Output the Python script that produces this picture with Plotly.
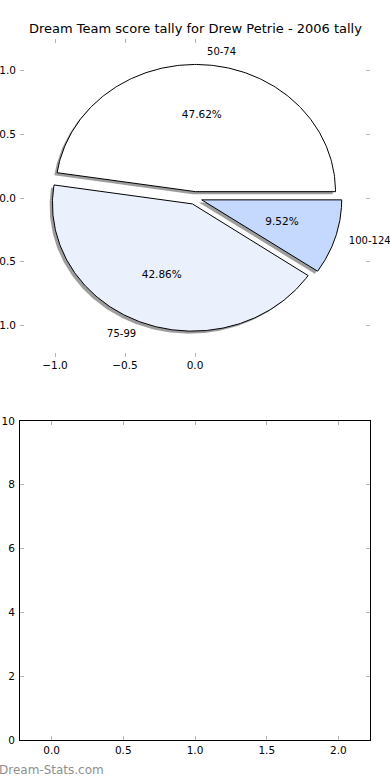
import numpy as np
import plotly.graph_objects as go

# ---- data ----
categories = ["50-74", "75-99", "100-124"]
counts = [10, 9, 2]
colors = ["#ffffff", "#eaf1fd", "#c5d8fe"]
title = "Dream Team score tally for Drew Petrie - 2006 tally"
pie_xticks = [-1.0, -0.5, 0.0]
pie_yticks = [-1.0, -0.5, 0.0, 0.5, 1.0]
bottom_xticks = [0.0, 0.5, 1.0, 1.5, 2.0]
bottom_yticks = [0, 2, 4, 6, 8, 10]

explode = 0.05
shadow_off = -0.02
label_dist = 1.1
pct_dist = 0.6

W, H = 390, 780
FONT = "DejaVu Sans"
TICKC = "#b4b4b4"
FS = 10.5

fig = go.Figure()

total = float(sum(counts))
fracs = [c / total for c in counts]

wedges = []
t1 = 0.0
for cat, f, col in zip(categories, fracs, colors):
    t2 = t1 + 360.0 * f
    mid = np.deg2rad((t1 + t2) / 2)
    cx, cy = explode * np.cos(mid), explode * np.sin(mid)
    th = np.deg2rad(np.linspace(t1, t2, 200))
    xs = np.concatenate([[cx], cx + np.cos(th), [cx]])
    ys = np.concatenate([[cy], cy + np.sin(th), [cy]])
    wedges.append((cat, f, col, xs, ys, mid, cx, cy))
    t1 = t2

# shadows first (below wedges)
for cat, f, col, xs, ys, mid, cx, cy in wedges:
    fig.add_trace(go.Scatter(x=xs + shadow_off, y=ys + shadow_off, mode="lines",
                             fill="toself", fillcolor="rgba(60,60,60,0.5)",
                             line=dict(width=0, color="rgba(0,0,0,0)"),
                             hoverinfo="skip", showlegend=False, xaxis="x", yaxis="y"))
for cat, f, col, xs, ys, mid, cx, cy in wedges:
    fig.add_trace(go.Scatter(x=xs, y=ys, mode="lines", fill="toself", fillcolor=col,
                             line=dict(width=1, color="black"),
                             hoverinfo="skip", showlegend=False, xaxis="x", yaxis="y"))

# labels
for cat, f, col, xs, ys, mid, cx, cy in wedges:
    lx = cx + label_dist * np.cos(mid)
    ly = cy + label_dist * np.sin(mid)
    pos = "middle right" if lx > 0 else "middle left"
    fig.add_trace(go.Scatter(x=[lx], y=[ly], mode="text", text=[cat], textposition=pos,
                             textfont=dict(family=FONT, size=10, color="black"),
                             cliponaxis=False,
                             hoverinfo="skip", showlegend=False, xaxis="x", yaxis="y"))
    px = cx + pct_dist * np.cos(mid)
    py = cy + pct_dist * np.sin(mid)
    fig.add_trace(go.Scatter(x=[px], y=[py], mode="text", text=["%1.2f%%" % (100 * f)],
                             textposition="middle center", cliponaxis=False,
                             textfont=dict(family=FONT, size=FS, color="black"),
                             hoverinfo="skip", showlegend=False, xaxis="x", yaxis="y"))

# empty bottom axes
fig.add_trace(go.Scatter(x=[], y=[], xaxis="x2", yaxis="y2", showlegend=False))

x0, x1 = 20 / W, 370 / W
common = dict(showgrid=False, zeroline=False, ticks="inside", ticklen=4, tickwidth=1,
              tickcolor=TICKC, tickfont=dict(family=FONT, size=FS, color="black"),
              fixedrange=True, automargin=False)

fig.update_layout(
    width=W, height=H,
    margin=dict(l=0, r=0, t=0, b=0),
    paper_bgcolor="white", plot_bgcolor="white",
    showlegend=False,
    font=dict(family=FONT, color="black"),
    xaxis=dict(domain=[x0, x1], range=[-1.25, 1.25], tickvals=pie_xticks,
               tickformat=".1f", showline=False, mirror="ticks", anchor="y", **common),
    yaxis=dict(domain=[1 - 357 / H, 1 - 39 / H], range=[-1.25, 1.25], tickvals=pie_yticks,
               tickformat=".1f", showline=False, mirror="ticks", anchor="x",
               ticklabelstandoff=3, **common),
    xaxis2=dict(domain=[x0, x1], range=[-0.22, 2.22], tickvals=bottom_xticks,
                tickformat=".1f", showline=True, linecolor="black", linewidth=1,
                mirror="ticks", anchor="y2", **common),
    yaxis2=dict(domain=[1 - 740 / H, 1 - 421 / H], range=[0, 10], tickvals=bottom_yticks,
                showline=True, linecolor="black", linewidth=1,
                mirror="ticks", anchor="x2", ticklabelstandoff=2, **common),
    annotations=[
        dict(text=title, x=(x0 + x1) / 2, y=1 - 29 / H, xref="paper", yref="paper",
             showarrow=False, xanchor="center", yanchor="middle",
             font=dict(family=FONT, size=13, color="black")),
        dict(text="Dream-Stats.com", x=0, y=1 - 770 / H, xref="paper", yref="paper",
             showarrow=False, xanchor="left", yanchor="middle", xshift=-3,
             font=dict(family=FONT, size=12, color="#8f8f8f")),
    ],
)

fig.write_html("out.html", config={"displayModeBar": False}, post_script=(
    "document.body.style.margin='0';document.body.style.padding='0';"
    "document.body.style.overflow='hidden';"
    "document.documentElement.style.overflow='hidden';"))
